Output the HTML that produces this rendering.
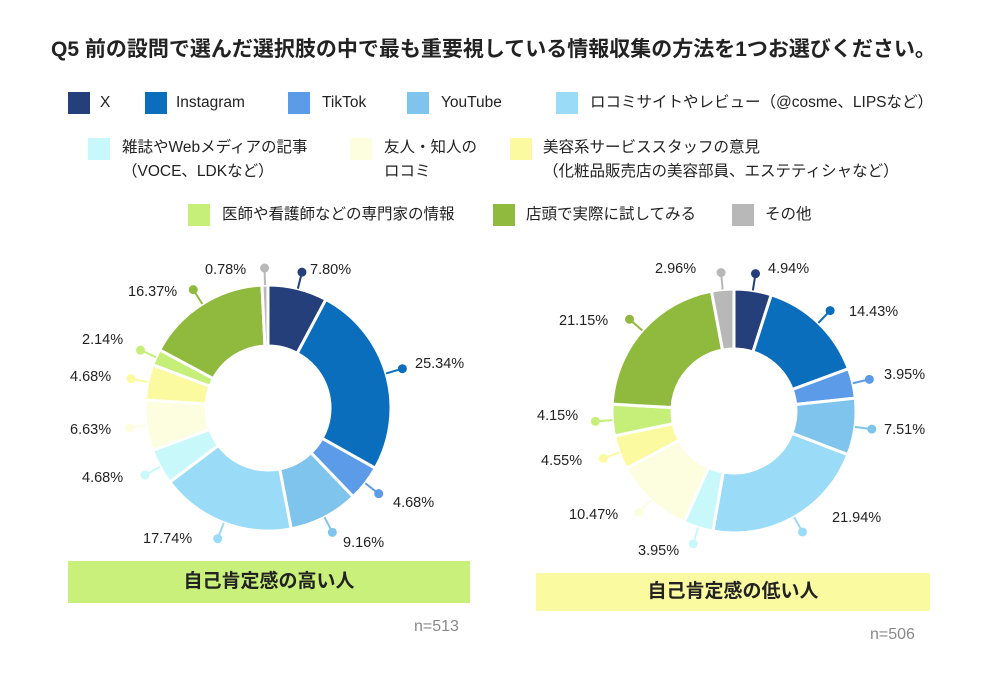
<!DOCTYPE html>
<html><head><meta charset="utf-8"><style>
body{margin:0;width:1000px;height:680px;background:#fff;font-family:"Liberation Sans","Noto Sans CJK JP",sans-serif;color:#222;position:relative;overflow:hidden}
.a{position:absolute;white-space:nowrap}
.sq{position:absolute;width:22px;height:22px}
.lt{position:absolute;font-size:15.5px;white-space:nowrap;line-height:24px}
.p{position:absolute;font-size:14.5px;white-space:nowrap;transform:translateY(-50%)}
</style></head><body>
<div class="a" style="left:51px;top:33px;font-size:21px;font-weight:bold;">Q5 前の設問で選んだ選択肢の中で最も重要視している情報収集の方法を1つお選びください。</div>

<div class="sq" style="left:68px;top:92px;background:#243f7a"></div><div class="lt" style="left:100px;top:91px">X</div>
<div class="sq" style="left:145px;top:92px;background:#0a6ebd"></div><div class="lt" style="left:176px;top:91px">Instagram</div>
<div class="sq" style="left:288px;top:92px;background:#5b9be8"></div><div class="lt" style="left:322px;top:91px">TikTok</div>
<div class="sq" style="left:407px;top:92px;background:#7ec4ec"></div><div class="lt" style="left:441px;top:91px">YouTube</div>
<div class="sq" style="left:556px;top:92px;background:#9adcf7"></div><div class="lt" style="left:590px;top:91px">ロコミサイトやレビュー（@cosme、LIPSなど）</div>

<div class="sq" style="left:88px;top:138px;background:#c8f8fa"></div><div class="lt" style="left:122px;top:136px">雑誌やWebメディアの記事<br>（VOCE、LDKなど）</div>
<div class="sq" style="left:350px;top:138px;background:#fdfde0"></div><div class="lt" style="left:384px;top:136px">友人・知人の<br>ロコミ</div>
<div class="sq" style="left:510px;top:138px;background:#fcfaa0"></div><div class="lt" style="left:543px;top:136px">美容系サービススタッフの意見<br>（化粧品販売店の美容部員、エステティシャなど）</div>

<div class="sq" style="left:188px;top:204px;background:#c5ef78"></div><div class="lt" style="left:222px;top:203px">医師や看護師などの専門家の情報</div>
<div class="sq" style="left:493px;top:204px;background:#8fba3e"></div><div class="lt" style="left:526px;top:203px">店頭で実際に試してみる</div>
<div class="sq" style="left:732px;top:204px;background:#b8b8b8"></div><div class="lt" style="left:765px;top:203px">その他</div>

<svg id="s" class="a" style="left:0;top:0" width="1000" height="680"></svg>

<div class="p" style="left:205px;top:270px">0.78%</div>
<div class="p" style="left:310px;top:270px">7.80%</div>
<div class="p" style="left:415px;top:364px">25.34%</div>
<div class="p" style="left:393px;top:503px">4.68%</div>
<div class="p" style="left:343px;top:543px">9.16%</div>
<div class="p" style="left:143px;top:539px">17.74%</div>
<div class="p" style="left:82px;top:478px">4.68%</div>
<div class="p" style="left:70px;top:430px">6.63%</div>
<div class="p" style="left:70px;top:377px">4.68%</div>
<div class="p" style="left:82px;top:340px">2.14%</div>
<div class="p" style="left:128px;top:292px">16.37%</div>

<div class="p" style="left:655px;top:269px">2.96%</div>
<div class="p" style="left:768px;top:269px">4.94%</div>
<div class="p" style="left:849px;top:312px">14.43%</div>
<div class="p" style="left:884px;top:375px">3.95%</div>
<div class="p" style="left:884px;top:430px">7.51%</div>
<div class="p" style="left:832px;top:518px">21.94%</div>
<div class="p" style="left:638px;top:551px">3.95%</div>
<div class="p" style="left:569px;top:515px">10.47%</div>
<div class="p" style="left:541px;top:461px">4.55%</div>
<div class="p" style="left:537px;top:416px">4.15%</div>
<div class="p" style="left:559px;top:321px">21.15%</div>

<div class="a" style="left:68px;top:561px;width:402px;height:42px;background:#c8f07a;font-size:19px;font-weight:bold;text-align:center;line-height:42px">自己肯定感の高い人</div>
<div class="a" style="left:414px;top:618px;font-size:16px;color:#888">n=513</div>
<div class="a" style="left:536px;top:573px;width:394px;height:38px;background:#fafaa0;font-size:19px;font-weight:bold;text-align:center;line-height:38px">自己肯定感の低い人</div>
<div class="a" style="left:870px;top:626px;font-size:16px;color:#888">n=506</div>

<script>
var C=["#243f7a","#0a6ebd","#5b9be8","#7ec4ec","#9adcf7","#c8f8fa","#fdfde0","#fcfaa0","#c5ef78","#8fba3e","#b8b8b8"];
var D1=[7.80,25.34,4.68,9.16,17.74,4.68,6.63,4.68,2.14,16.37,0.78];
var D2=[4.94,14.43,3.95,7.51,21.94,3.95,10.47,4.55,4.15,21.15,2.96];
var s=document.getElementById("s"),h="";
function pt(cx,cy,r,a){return [cx+r*Math.sin(a),cy-r*Math.cos(a)];}
function donut(cx,cy,R,r,D){var tot=D.reduce(function(a,b){return a+b},0),acc=0;
D.forEach(function(v,i){var a0=acc/tot*2*Math.PI,a1=(acc+v)/tot*2*Math.PI;acc+=v;
var p0=pt(cx,cy,R,a0),p1=pt(cx,cy,R,a1),q1=pt(cx,cy,r,a1),q0=pt(cx,cy,r,a0),lg=(a1-a0)>Math.PI?1:0;
h+='<path d="M'+p0+' A'+R+','+R+' 0 '+lg+' 1 '+p1+' L'+q1+' A'+r+','+r+' 0 '+lg+' 0 '+q0+' Z" fill="'+C[i]+'" stroke="#fff" stroke-width="3"/>';
var m=(a0+a1)/2,l0=pt(cx,cy,R,m),l1=pt(cx,cy,R+17,m);
h+='<line x1="'+l0[0]+'" y1="'+l0[1]+'" x2="'+l1[0]+'" y2="'+l1[1]+'" stroke="'+C[i]+'" stroke-width="2"/><circle cx="'+l1[0]+'" cy="'+l1[1]+'" r="4.5" fill="'+C[i]+'"/>';});}
donut(268,408,123,62,D1);donut(734,411,122,62,D2);
s.innerHTML=h;
</script>
</body></html>
